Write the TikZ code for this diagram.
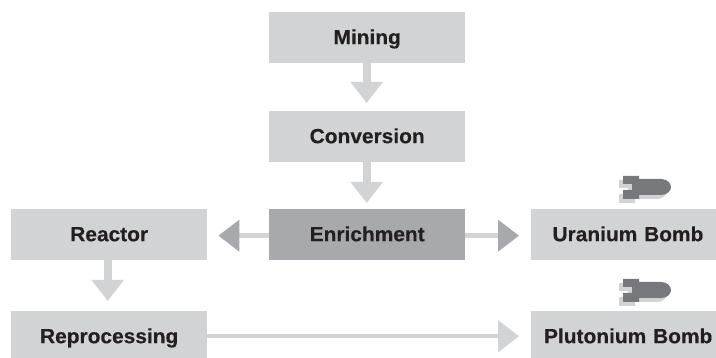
\documentclass[tikz,border=0pt]{standalone}
\usepackage{fontspec}
\setmainfont{Liberation Sans}[FakeStretch=1.02,FakeBold=0.4]
\usetikzlibrary{arrows.meta}
\definecolor{boxlight}{HTML}{D1D3D4}
\definecolor{boxdark}{HTML}{A7A9AC}
\definecolor{bombdark}{HTML}{77787B}
\definecolor{txt}{HTML}{231F20}
\tikzset{
  stage/.style={fill=boxlight,draw=none,text=txt,font=\fontsize{20.5}{21}\selectfont\bfseries,
    inner xsep=0pt,inner ysep=0pt,text height=32pt,text depth=19pt,text width=196pt,align=center,anchor=north west},
  hot/.style={fill=boxdark},
  short/.style={text depth=15pt},
  narrow/.style={text width=185pt},
  flow/.style={draw=boxlight,line width=8pt,-{Triangle[length=21pt,width=31pt,color=boxlight,fill=boxlight]}},
  thin flow/.style={draw=boxlight,line width=4.5pt,-{Triangle[length=21pt,width=31pt,color=boxlight,fill=boxlight]}},
  hot flow/.style={draw=boxlight,line width=4.5pt,-{Triangle[length=21pt,width=31pt,color=boxdark,fill=boxdark]}},
  bombshape/.pic={
    \fill[pic actions] (0,0) -- (16,0) -- (16,3) -- (38,3) .. controls (44,3) and (48,7) .. (48,11) .. controls (48,15) and (44,19) .. (38,19) -- (16,19) -- (16,23) -- (0,23) -- (0,14) -- (9,14) -- (9,8) -- (0,8) -- cycle;
  },
}
\begin{document}
\begin{tikzpicture}[x=1pt,y=-1pt]
\useasboundingbox (0,0) rectangle (716,358);
\node[stage] (mining) at (269,12) {Mining};
\node[stage] (conversion) at (269,111) {Conversion};
\node[stage,hot] (enrichment) at (269,209) {Enrichment};
\node[stage] (reactor) at (11,209) {Reactor};
\node[stage,short] (reprocessing) at (11,311) {Reprocessing};
\node[stage,narrow] (uranium) at (531,209) {\hspace*{8.5pt}Uranium Bomb};
\node[stage,narrow,short] (plutonium) at (531,311) {\hspace*{9pt}Plutonium Bomb};
\draw[flow,shorten >=8pt] ([xshift=-0.5pt]mining.south) -- ([xshift=-0.5pt]conversion.north);
\draw[flow,shorten >=6pt] ([xshift=-0.5pt]conversion.south) -- ([xshift=-0.5pt]enrichment.north);
\draw[flow,shorten >=10pt] ([xshift=-1.5pt]reactor.south) -- ([xshift=-1.5pt]reprocessing.north);
\draw[hot flow,shorten >=11pt] ([yshift=-1pt]enrichment.west) -- ([yshift=-1pt]reactor.east);
\draw[hot flow,shorten >=12pt] ([yshift=-1pt]enrichment.east) -- ([yshift=-1pt]uranium.west);
\draw[thin flow,shorten >=12pt] ([yshift=-1.5pt]reprocessing.east) -- ([yshift=-1.5pt]plutonium.west);
\pic[fill=boxlight] at (619,180) {bombshape};
\pic[fill=bombdark] at (623,176) {bombshape};
\pic[fill=boxlight] at (619,283) {bombshape};
\pic[fill=bombdark] at (623,279) {bombshape};
\end{tikzpicture}
\end{document}
